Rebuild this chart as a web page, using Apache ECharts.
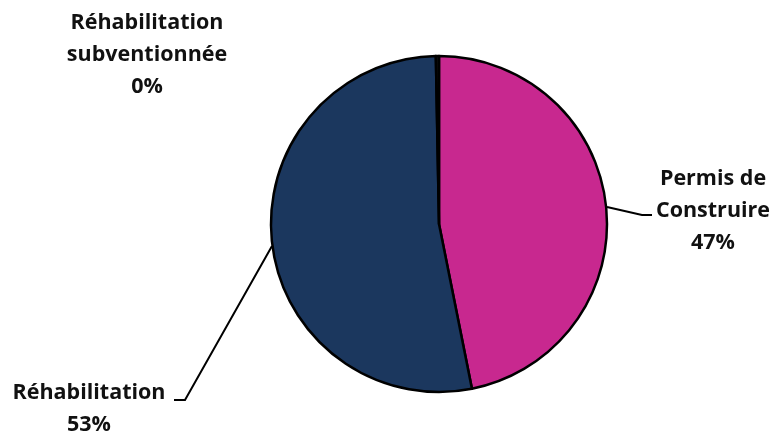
<!DOCTYPE html>
<html>
<head>
<meta charset="utf-8">
<script src="https://cdn.jsdelivr.net/npm/echarts@6/dist/echarts.min.js"></script>
<style>
html,body{margin:0;padding:0;background:#fff;}
#chart{width:771px;height:437px;}
</style>
</head>
<body>
<div id="chart"></div>
<script>
const categories = ['Permis de\nConstruire', 'Réhabilitation', 'Réhabilitation\nsubventionnée'];
const values = [47, 53, 0.3];
const colors = ['#C8288F', '#1B375E', '#111111'];

const labelPos = [
  {x: 713, y: 211, line: [[607, 207], [642, 215], [652, 215]]},
  {x: 89, y: 409, line: [[272, 246], [185, 400], [174, 400]]},
  {x: 147, y: 55, line: null}
];

const data = categories.map((c, i) => ({
  name: c,
  value: values[i],
  itemStyle: {color: colors[i]},
  labelLine: {show: !!labelPos[i].line}
}));

const chart = echarts.init(document.getElementById('chart'));
chart.setOption({
  animation: false,
  series: [{
    type: 'pie',
    center: [439, 224],
    radius: 168,
    startAngle: 90,
    clockwise: true,
    avoidLabelOverlap: false,
    itemStyle: {borderColor: '#000', borderWidth: 2.5},
    label: {
      show: true,
      formatter: p => p.name + '\n' + Math.round(p.percent) + '%',
      fontFamily: 'Open Sans',
      fontWeight: 'bold',
      fontSize: 21.5,
      lineHeight: 32,
      color: '#111',
      align: 'center'
    },
    labelLine: {show: true, lineStyle: {color: '#000', width: 2}},
    labelLayout: function (params) {
      const p = labelPos[params.dataIndex];
      const r = {x: p.x, y: p.y, align: 'center', verticalAlign: 'middle'};
      if (p.line) r.labelLinePoints = p.line;
      return r;
    },
    data: data
  }]
});
</script>
</body>
</html>
